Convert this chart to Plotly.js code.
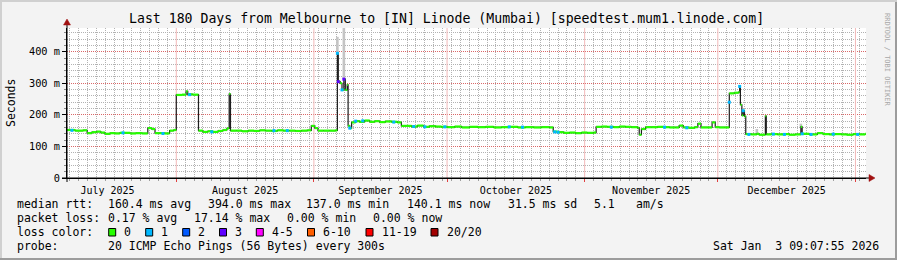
<!DOCTYPE html>
<html><head><meta charset="utf-8">
<script src="https://cdn.plot.ly/plotly-3.0.1.min.js"></script>
<style>html,body{margin:0;padding:0;background:#f3f3f3;}#c{width:897px;height:260px;}</style>
</head><body><div id="c"></div>
<script>
// ---- data (median RTT in ms) ----
const times = [
"2025-07-07 09:00","2025-07-09 05:00","2025-07-11 00:00","2025-07-11 22:00","2025-07-13 00:00","2025-07-14 02:00",
"2025-07-15 00:00","2025-07-15 22:00","2025-07-17 02:00","2025-07-18 05:00","2025-07-19 07:00","2025-07-20 10:00",
"2025-07-21 14:00","2025-07-22 22:00","2025-07-24 07:00","2025-07-25 14:00","2025-07-26 12:00","2025-07-27 05:00",
"2025-07-28 07:00","2025-07-29 10:00","2025-07-30 12:00","2025-07-31 10:00","2025-08-01 00:00","2025-08-02 07:00",
"2025-08-03 05:00","2025-08-03 14:00","2025-08-04 17:00","2025-08-06 00:00","2025-08-07 00:00","2025-08-08 02:00",
"2025-08-09 05:00","2025-08-10 10:00","2025-08-11 12:00","2025-08-12 10:00","2025-08-12 22:00","2025-08-13 05:00",
"2025-08-14 12:00","2025-08-15 19:00","2025-08-17 05:00","2025-08-18 12:00","2025-08-19 19:00","2025-08-21 02:00",
"2025-08-22 12:00","2025-08-23 19:00","2025-08-25 02:00","2025-08-26 12:00","2025-08-27 19:00","2025-08-29 05:00",
"2025-08-30 12:00","2025-08-31 10:00","2025-09-01 05:00","2025-09-01 22:00","2025-09-03 05:00","2025-09-04 14:00",
"2025-09-05 22:00","2025-09-06 07:00","2025-09-06 12:00","2025-09-06 22:00","2025-09-07 08:00","2025-09-07 18:00",
"2025-09-08 02:00","2025-09-08 12:00","2025-09-08 17:00","2025-09-09 02:00","2025-09-09 12:00","2025-09-10 10:00",
"2025-09-11 07:00","2025-09-12 10:00","2025-09-13 14:00","2025-09-14 17:00","2025-09-15 19:00","2025-09-17 02:00",
"2025-09-18 12:00","2025-09-19 19:00","2025-09-20 17:00","2025-09-21 14:00","2025-09-23 00:00","2025-09-24 07:00",
"2025-09-25 17:00","2025-09-27 00:00","2025-09-28 10:00","2025-09-29 17:00","2025-10-01 02:00","2025-10-02 17:00",
"2025-10-04 07:00","2025-10-06 02:00","2025-10-07 22:00","2025-10-09 17:00","2025-10-11 12:00","2025-10-13 07:00",
"2025-10-15 02:00","2025-10-16 22:00","2025-10-18 17:00","2025-10-20 12:00","2025-10-22 07:00","2025-10-24 02:00",
"2025-10-24 22:00","2025-10-25 22:00","2025-10-27 07:00","2025-10-28 14:00","2025-10-30 00:00","2025-10-31 07:00",
"2025-11-01 14:00","2025-11-03 00:00","2025-11-03 14:00","2025-11-04 19:00","2025-11-06 02:00","2025-11-07 12:00",
"2025-11-08 19:00","2025-11-10 05:00","2025-11-11 12:00","2025-11-12 22:00","2025-11-13 07:00","2025-11-13 19:00",
"2025-11-14 17:00","2025-11-16 00:00","2025-11-17 10:00","2025-11-18 17:00","2025-11-20 02:00","2025-11-21 10:00",
"2025-11-22 07:00","2025-11-23 05:00","2025-11-24 12:00","2025-11-25 19:00","2025-11-26 12:00","2025-11-27 05:00",
"2025-11-28 14:00","2025-11-29 17:00","2025-11-30 10:00","2025-12-01 07:00","2025-12-02 10:00","2025-12-03 14:00",
"2025-12-04 17:00","2025-12-05 17:00","2025-12-05 22:00","2025-12-06 02:00","2025-12-06 10:00","2025-12-06 17:00",
"2025-12-07 00:00","2025-12-07 07:00","2025-12-08 12:00","2025-12-09 19:00","2025-12-10 07:00","2025-12-11 17:00",
"2025-12-11 22:00","2025-12-13 00:00","2025-12-14 10:00","2025-12-15 17:00","2025-12-17 02:00","2025-12-18 10:00",
"2025-12-19 17:00","2025-12-20 00:00","2025-12-21 14:00","2025-12-23 10:00","2025-12-24 17:00","2025-12-26 02:00",
"2025-12-27 10:00","2025-12-28 19:00","2025-12-30 02:00","2025-12-31 12:00","2026-01-02 00:00","2026-01-03 05:00"
];
const medians = [
152,150,151,142,145,147,
144,140,142,141,143,143,
141,142,141,158,155,142,
142,141,150,152,263,264,
274,265,264,150,146,148,
146,149,152,157,266,150,
150,148,150,149,151,150,
149,151,150,150,149,150,
151,165,158,150,150,150,
151,395,305,300,279,313,
279,295,165,158,176,180,
178,182,178,180,177,179,
178,176,165,165,163,166,
162,164,163,162,161,163,
160,162,161,162,160,161,
162,160,161,160,161,160,
147,145,143,144,142,144,
143,144,162,163,162,161,
163,162,161,159,137,155,
161,161,162,161,160,160,
166,160,159,161,172,160,
160,176,161,160,160,268,
270,272,290,232,198,213,
195,139,138,140,137,196,
138,139,138,139,137,138,
162,140,138,142,139,138,
139,138,137,139,138,140
];
const startTime = "2025-07-07 09:07";
const endTime = "2026-01-03 09:07";

// samples with 1 lost ping
const loss1Times = ["2025-07-08 12:00","2025-07-20 00:00","2025-07-29 00:00","2025-08-04 00:00","2025-08-09 00:00",
"2025-08-23 00:00","2025-08-26 00:00","2025-09-06 07:00","2025-09-07 08:00","2025-09-09 02:00","2025-09-10 10:00",
"2025-09-12 00:00","2025-09-19 00:00","2025-09-23 12:00","2025-09-26 00:00","2025-09-30 12:00","2025-10-15 00:00",
"2025-10-18 00:00","2025-10-25 06:00","2025-10-26 00:00","2025-11-07 00:00","2025-11-19 00:00","2025-11-24 00:00",
"2025-12-03 14:00","2025-12-05 22:00","2025-12-06 17:00","2025-12-08 00:00","2025-12-13 12:00","2025-12-16 00:00",
"2025-12-20 00:00","2025-12-22 00:00","2025-12-27 00:00","2026-01-01 12:00"];
const loss1Values = [151,143,141,264,146,150,150,395,279,158,180,181,177,163,162,162,162,161,146,145,161,161,159,
240,290,213,138,139,138,140,138,139,138];
// samples with 3 lost pings
const loss3Times = ["2025-09-06 12:00","2025-09-07 18:00"];
const loss3Values = [305,313];

// smoke (spread of the pings) where visible
const smokeTimes = ["2025-09-06 07:00","2025-09-07 18:00","2025-12-09 19:00","2025-12-19 17:00"];
const smokeLow   = [395,313,140,162];
const smokeHigh  = [447,475,155,172];

// legend / axes
const lossLabels = ["0","1","2","3","4-5","6-10","11-19","20/20"];
const lossColors = ["#26ff00","#00b8ff","#0059ff","#5e00ff","#ff00ff","#ff5e00","#ff0000","#a10000"];
const yTickVals = [0,100,200,300,400];
const yTickText = ["0","100 m","200 m","300 m","400 m"];
const yMax = 475;
const monthStarts = ["2025-08-01","2025-09-01","2025-10-01","2025-11-01","2025-12-01","2026-01-01"];

// ---- geometry helpers (pixel -> paper) ----
const L=67, R=866, T=28, B=178;
const px = x => (x-L)/(R-L);
const py = y => (B-y)/(B-T);
const MONO = "DejaVu Sans Mono";
const MGRID = "rgba(225,90,90,0.85)";

// month grid lines (light red)
const mx=[], my=[];
monthStarts.forEach(m=>{ mx.push(m,m,null); my.push(0,yMax,null); });

// green horizontal segments
const gx=[], gy=[];
for (let i=0;i<times.length;i++){
  const nx = i<times.length-1 ? times[i+1] : endTime;
  gx.push(times[i], nx, null); gy.push(medians[i], medians[i], null);
}

const traces = [
  {type:"scatter", mode:"lines", x:mx, y:my, line:{color:"#f2b8b8", width:1}, hoverinfo:"skip"},
  {type:"bar", x:smokeTimes, y:smokeHigh.map((h,i)=>h-smokeLow[i]), base:smokeLow,
   width:smokeTimes.map(()=>14*3600*1000), marker:{color:"#c4c4c4", line:{width:0}}, hoverinfo:"skip"},
  {type:"scatter", mode:"lines", x:times, y:medians, line:{shape:"hv", color:"#1e1e1e", width:1.2}, hoverinfo:"skip"},
  {type:"scatter", mode:"lines", x:gx, y:gy, connectgaps:false, line:{color:lossColors[0], width:2.2}, hoverinfo:"skip"},
  {type:"scatter", mode:"markers", x:loss1Times, y:loss1Values, marker:{symbol:"square", size:3, color:lossColors[1]}, hoverinfo:"skip"},
  {type:"scatter", mode:"markers", x:loss3Times, y:loss3Values, marker:{symbol:"square", size:3, color:lossColors[3]}, hoverinfo:"skip"}
];

const ann = [];
function txt(s, x, y, opts){
  ann.push(Object.assign({text:s, xref:"paper", yref:"paper", x:px(x), y:py(y), showarrow:false,
    xanchor:"left", yanchor:"middle", font:{family:MONO, size:11.5, color:"#000"}, borderpad:0}, opts||{}));
}
txt("Last 180 Days from Melbourne to [IN] Linode (Mumbai) [speedtest.mum1.linode.com]", 446.5, 19,
    {xanchor:"center", font:{family:MONO, size:13.2, color:"#000"}});
txt("Seconds", 11, 103, {xanchor:"center", textangle:-90, font:{family:MONO, size:11.5, color:"#000"}});
txt("RRDTOOL / TOBI OETIKER", 887, 60, {xanchor:"center", textangle:90, font:{family:MONO, size:7, color:"#a8a8a8"}});

const row1=204.3, row2=218.3, row3=232.3, row4=246.2;
txt("median rtt:",16,row1); txt("160.4 ms avg",107.3,row1); txt("394.0 ms max",207.3,row1);
txt("137.0 ms min",305.3,row1); txt("140.1 ms now",406,row1); txt("31.5 ms sd",507.3,row1);
txt("5.1",593.3,row1); txt("am/s",635,row1);
txt("packet loss:",16,row2); txt("0.17 % avg",107.3,row2); txt("17.14 % max",192.7,row2);
txt("0.00 % min",286,row2); txt("0.00 % now",372.3,row2);
txt("loss color:",16,row3);
txt("probe:",16,row4); txt("20 ICMP Echo Pings (56 Bytes) every 300s",107.3,row4);
txt("Sat Jan  3 09:07:55 2026",880,row4,{xanchor:"right"});

const boxX = [108.7,145.7,182.7,219.5,256.3,307.5,366,431];
const shapes = [];
lossLabels.forEach((lab,i)=>{
  shapes.push({type:"rect", xref:"paper", yref:"paper", x0:px(boxX[i]), x1:px(boxX[i]+7), y0:py(236), y1:py(228.5),
    fillcolor:lossColors[i], line:{color:"#000", width:1}});
  txt(lab, boxX[i]+14.6, row3);
});

// axis overhangs and arrows
shapes.push({type:"line", xref:"paper", yref:"paper", x0:px(62), x1:px(870), y0:py(178), y1:py(178), line:{color:"#000", width:1}});
shapes.push({type:"line", xref:"paper", yref:"paper", x0:px(67), x1:px(67), y0:py(182), y1:py(23), line:{color:"#000", width:1}});
shapes.push({type:"path", xref:"paper", yref:"paper",
  path:`M ${px(869)} ${py(174.5)} L ${px(875)} ${py(178)} L ${px(869)} ${py(181.5)} Z`, fillcolor:"#a01010", line:{color:"#a01010", width:0.5}});
shapes.push({type:"path", xref:"paper", yref:"paper",
  path:`M ${px(63.5)} ${py(25)} L ${px(67)} ${py(19)} L ${px(70.5)} ${py(25)} Z`, fillcolor:"#a01010", line:{color:"#a01010", width:0.5}});
// image border
shapes.push({type:"rect", xref:"paper", yref:"paper", x0:px(0), x1:px(897), y0:py(260), y1:py(258), fillcolor:"#9c9c9c", line:{width:0}});
shapes.push({type:"rect", xref:"paper", yref:"paper", x0:px(895), x1:px(897), y0:py(260), y1:py(0), fillcolor:"#9c9c9c", line:{width:0}});
shapes.push({type:"rect", xref:"paper", yref:"paper", x0:px(0), x1:px(897), y0:py(2), y1:py(0), fillcolor:"#d0d0d0", line:{width:0}});
shapes.push({type:"rect", xref:"paper", yref:"paper", x0:px(0), x1:px(2), y0:py(258), y1:py(0), fillcolor:"#d0d0d0", line:{width:0}});

const layout = {
  width:897, height:260,
  margin:{l:L, r:897-R, t:T, b:260-B, pad:0},
  paper_bgcolor:"#f3f3f3", plot_bgcolor:"#ffffff",
  showlegend:false, barmode:"overlay",
  font:{family:MONO, size:10, color:"#000"},
  xaxis:{type:"date", range:[startTime, endTime], dtick:"M1", tick0:"2025-08-01",
    ticklabelmode:"period", tickformat:"%B %Y", tickfont:{family:MONO, size:10, color:"#000"},
    showgrid:false,
    ticks:"outside", ticklen:3, tickcolor:"#e04040",
    showline:true, linecolor:"#000", linewidth:1, zeroline:false, fixedrange:true,
    minor:{dtick:2*86400000, tick0:"2025-08-01", showgrid:true, gridcolor:"#b2b2b2", griddash:"1px,1px",
      ticks:"outside", ticklen:2, tickcolor:"#a0a0a0"}},
  yaxis:{range:[0,yMax], tickvals:yTickVals, ticktext:yTickText, tickfont:{family:MONO, size:10.3, color:"#000"},
    showgrid:true, gridcolor:MGRID, griddash:"1px,1px", gridwidth:1,
    ticks:"outside", ticklen:4, tickcolor:"#000",
    showline:true, linecolor:"#000", linewidth:1, zeroline:false, fixedrange:true,
    minor:{dtick:20, tick0:0, showgrid:true, gridcolor:"#b2b2b2", griddash:"1px,1px",
      ticks:"outside", ticklen:2, tickcolor:"#888"}},
  annotations:ann, shapes:shapes
};
Plotly.newPlot("c", traces, layout, {staticPlot:true, displayModeBar:false});
</script></body></html>
